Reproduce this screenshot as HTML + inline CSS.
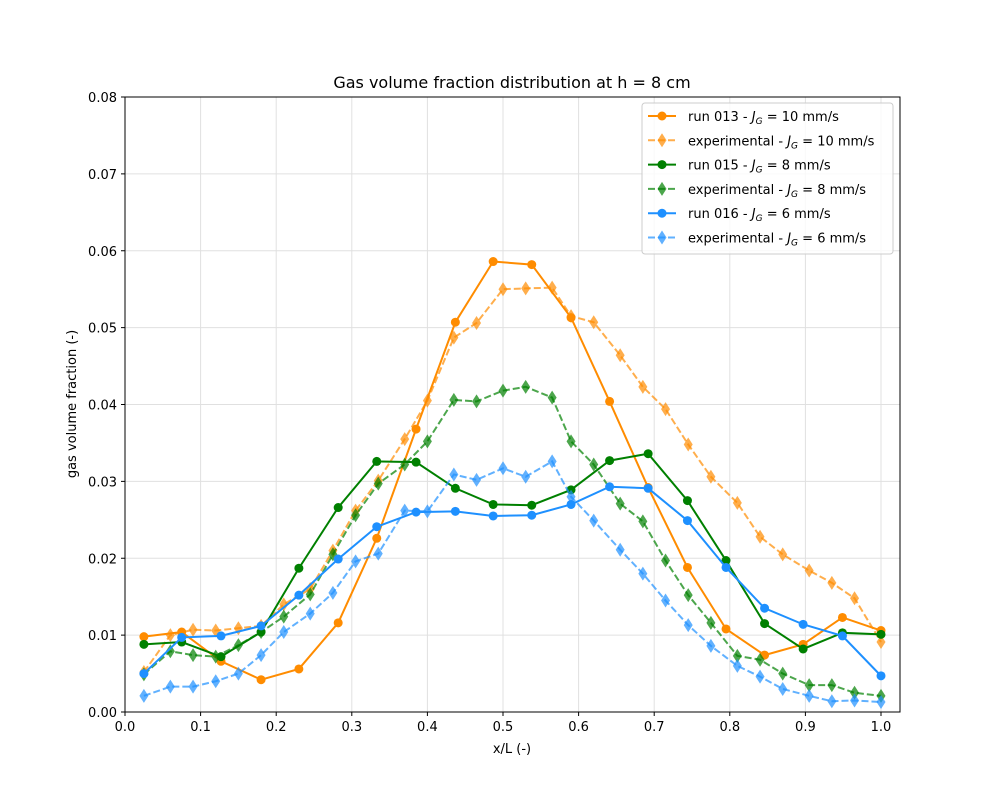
<!DOCTYPE html>
<html><head><meta charset="utf-8"><style>
body{margin:0;background:#fff}
svg text{font-family:"DejaVu Sans","Liberation Sans",sans-serif;fill:#000}
</style></head><body>
<svg id="chart" width="1000" height="800" xmlns="http://www.w3.org/2000/svg">
<rect width="1000" height="800" fill="#fff"/>
<g id="grid"></g>
<g id="series"></g>
<rect x="125" y="97" width="775" height="615" fill="none" stroke="#000" stroke-width="1"/>
<g id="ticks"></g>
<text x="512" y="88" font-size="16" text-anchor="middle">Gas volume fraction distribution at h = 8 cm</text>
<text x="512" y="753" font-size="13" text-anchor="middle">x/L (-)</text>
<text x="76" y="404" font-size="13" text-anchor="middle" transform="rotate(-90 76 404)">gas volume fraction (-)</text>
<g id="legend"></g>
</svg>
<script>
const xTicks=[0,0.1,0.2,0.3,0.4,0.5,0.6,0.7,0.8,0.9,1.0];
const xTickLabels=["0.0","0.1","0.2","0.3","0.4","0.5","0.6","0.7","0.8","0.9","1.0"];
const yTicks=[0,0.01,0.02,0.03,0.04,0.05,0.06,0.07,0.08];
const yTickLabels=["0.00","0.01","0.02","0.03","0.04","0.05","0.06","0.07","0.08"];
const simX=[0.025,0.075,0.127,0.18,0.23,0.282,0.333,0.385,0.437,0.487,0.538,0.59,0.641,0.692,0.744,0.795,0.846,0.897,0.949,1.0];
const run013=[0.0098,0.0104,0.0066,0.0042,0.0056,0.0116,0.0226,0.0368,0.0507,0.0586,0.0582,0.0513,0.0404,0.0292,0.0188,0.0108,0.0074,0.0088,0.0123,0.0106];
const run015=[0.0088,0.0091,0.0072,0.0104,0.0187,0.0266,0.0326,0.0325,0.0291,0.0270,0.0269,0.0289,0.0327,0.0336,0.0275,0.0197,0.0115,0.0082,0.0103,0.0101];
const run016=[0.0050,0.0097,0.0099,0.0112,0.0152,0.0199,0.0241,0.0260,0.0261,0.0255,0.0256,0.0270,0.0293,0.0291,0.0249,0.0188,0.0135,0.0114,0.0099,0.0047];
const expX=[0.025,0.06,0.09,0.12,0.15,0.18,0.21,0.245,0.275,0.305,0.335,0.37,0.40,0.435,0.465,0.50,0.53,0.565,0.59,0.62,0.655,0.685,0.715,0.745,0.775,0.81,0.84,0.87,0.905,0.935,0.965,1.0];
const exp10=[0.0052,0.0100,0.0107,0.0106,0.0109,0.0112,0.0140,0.0160,0.0210,0.0262,0.0301,0.0355,0.0405,0.0487,0.0506,0.0550,0.0551,0.0552,0.0515,0.0507,0.0464,0.0423,0.0394,0.0348,0.0306,0.0272,0.0228,0.0205,0.0184,0.0168,0.0148,0.0091];
const exp8=[0.0049,0.0079,0.0074,0.0072,0.0087,0.0104,0.0124,0.0153,0.0205,0.0256,0.0297,0.0322,0.0352,0.0406,0.0404,0.0418,0.0423,0.0409,0.0352,0.0322,0.0271,0.0248,0.0197,0.0152,0.0116,0.0073,0.0068,0.0050,0.0035,0.0035,0.0025,0.0021];
const exp6=[0.0021,0.0033,0.0033,0.0040,0.0050,0.0074,0.0104,0.0128,0.0155,0.0196,0.0206,0.0262,0.0261,0.0309,0.0302,0.0317,0.0306,0.0326,0.0280,0.0249,0.0211,0.0180,0.0145,0.0113,0.0086,0.0060,0.0046,0.0030,0.0021,0.0014,0.0015,0.0013];

const NS="http://www.w3.org/2000/svg";
const X=v=>125+v*756, Y=v=>712-v*7687.5;
function mk(tag,attrs,parent){const e=document.createElementNS(NS,tag);for(const k in attrs)e.setAttribute(k,attrs[k]);parent.appendChild(e);return e;}
const grid=document.getElementById('grid'),ticks=document.getElementById('ticks'),ser=document.getElementById('series'),leg=document.getElementById('legend');
xTicks.forEach((t,i)=>{
  const g=mk('line',{x1:X(t),x2:X(t),y1:97,y2:712,stroke:'#e0e0e0','stroke-width':1},grid);
  
  
  const tk=mk('line',{x1:X(t),x2:X(t),y1:712,y2:716,stroke:'#000'},ticks);
  
  
  const tl=mk('text',{x:X(t),y:731,'font-size':13,'text-anchor':'middle'},ticks);tl.textContent=xTickLabels[i];
  
  
});
yTicks.forEach((t,i)=>{
  const g=mk('line',{x1:125,x2:900,y1:Y(t),y2:Y(t),stroke:'#e0e0e0','stroke-width':1},grid);
  
  
  const tk=mk('line',{x1:121,x2:125,y1:Y(t),y2:Y(t),stroke:'#000'},ticks);
  
  
  const tl=mk('text',{x:117,y:Y(t)+5,'font-size':13,'text-anchor':'end'},ticks);tl.textContent=yTickLabels[i];
  
  
});
function marker(type,x,y,color,op,parent){
  let e;
  if(type==='o'){e=mk('circle',{cx:x,cy:y,r:4.5,fill:color,'fill-opacity':op},parent);}
  else{e=mk('polygon',{points:`${x},${y-7} ${x+4.5},${y} ${x},${y+7} ${x-4.5},${y}`,fill:color,'fill-opacity':op},parent);}
  return e;
}
function series(name,xs,ys,color,dash,type,op){
  const g=mk('g',{},ser);
  
  
  const pl=mk('polyline',{points:xs.map((x,i)=>X(x)+','+Y(ys[i])).join(' '),fill:'none',stroke:color,'stroke-width':2,'stroke-opacity':op,'stroke-dasharray':dash||'none'},g);
  
  
  xs.forEach((x,i)=>{const m=marker(type,X(x),Y(ys[i]),color,op,g);
    
    });
}
series('run-013',simX,run013,'#ff8c00',null,'o',1);
series('experimental-10',expX,exp10,'#ff8c00','7,3','d',0.7);
series('run-015',simX,run015,'#008000',null,'o',1);
series('experimental-8',expX,exp8,'#008000','7,3','d',0.7);
series('run-016',simX,run016,'#1e90ff',null,'o',1);
series('experimental-6',expX,exp6,'#1e90ff','7,3','d',0.7);

const lbox=mk('rect',{x:642,y:103,width:251,height:151,rx:3,fill:'#fff','fill-opacity':0.8,stroke:'#ccc'},leg);


const legItems=[['run 013','10','#ff8c00',null,'o',1],['experimental','10','#ff8c00','7,3','d',0.7],['run 015','8','#008000',null,'o',1],['experimental','8','#008000','7,3','d',0.7],['run 016','6','#1e90ff',null,'o',1],['experimental','6','#1e90ff','7,3','d',0.7]];
legItems.forEach((it,i)=>{
  const y=116+i*24.3;
  const g=mk('g',{},leg);
  
  
  mk('line',{x1:648,x2:676,y1:y,y2:y,stroke:it[2],'stroke-width':2,'stroke-opacity':it[5],'stroke-dasharray':it[3]||'none'},g);
  marker(it[4],662,y,it[2],it[5],g);
  const t=mk('text',{x:688,y:y+5,'font-size':13},g);
  t.innerHTML=it[0]+' - <tspan font-style="italic">J</tspan><tspan font-style="italic" font-size="9" dy="3">G</tspan><tspan dy="-3"> = '+it[1]+' mm/s</tspan>';
});
</script>
</body></html>
